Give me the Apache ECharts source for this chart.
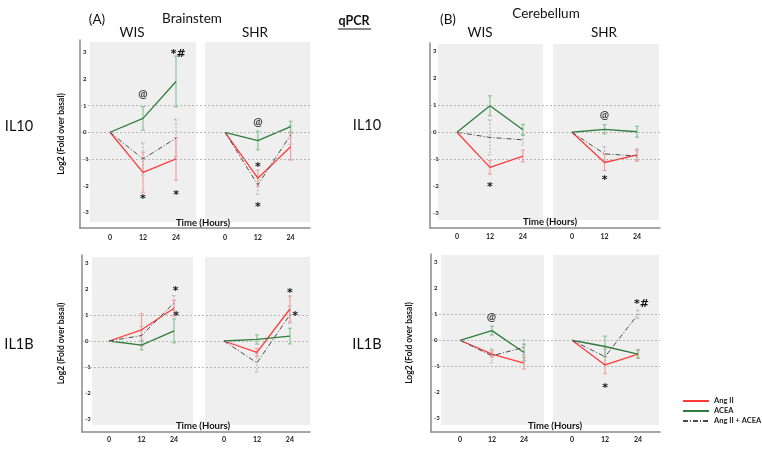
<!DOCTYPE html>
<html><head><meta charset="utf-8">
<script src="https://cdn.jsdelivr.net/npm/echarts@6/dist/echarts.min.js"></script>
<style>html,body{margin:0;padding:0;background:#fff}#c{width:762px;height:451px}</style>
</head><body><div id="c"></div>
<script>
// ---------- data ----------
const hours = [0, 12, 24];
const xTicks = [0, 12, 24];
const yTicks = [-3, -2, -1, 0, 1, 2, 3];
const refLines = [1, 0, -1];
const seriesNames = ['Ang II', 'ACEA', 'Ang II + ACEA'];

// Brainstem IL10 WIS
const bsIL10WisAng = [0, -1.5, -1.0];
const bsIL10WisAngErr = [0, 0.75, 0.8];
const bsIL10WisAcea = [0, 0.52, 1.9];
const bsIL10WisAceaErr = [0, 0.44, 0.95];
const bsIL10WisCombo = [0, -1.0, -0.22];
const bsIL10WisComboErr = [0, 0.6, 0.7];
const bsIL10WisNotes = [[12, 1.4, '@'], [24.8, 3.05, '*#'], [12, -2.4, '*'], [24, -2.25, '*']];
// Brainstem IL10 SHR
const bsIL10ShrAng = [0, -1.72, -0.54];
const bsIL10ShrAngErr = [0, 0.3, 0.5];
const bsIL10ShrAcea = [0, -0.31, 0.21];
const bsIL10ShrAceaErr = [0, 0.35, 0.2];
const bsIL10ShrCombo = [0, -1.97, -0.1];
const bsIL10ShrComboErr = [0, 0.35, 0.35];
const bsIL10ShrNotes = [[12, 0.37, '@'], [12, -1.18, '*'], [12, -2.68, '*']];
// Brainstem IL1B WIS
const bsIL1BWisAng = [0, 0.43, 1.26];
const bsIL1BWisAngErr = [0, 0.62, 0.3];
const bsIL1BWisAcea = [0, -0.16, 0.39];
const bsIL1BWisAceaErr = [0, 0.18, 0.46];
const bsIL1BWisCombo = [0, 0.21, 1.47];
const bsIL1BWisComboErr = [0, 0.35, 0.28];
const bsIL1BWisNotes = [[24.6, 2.05, '*'], [24.8, 1.08, '*']];
// Brainstem IL1B SHR
const bsIL1BShrAng = [0, -0.44, 1.23];
const bsIL1BShrAngErr = [0, 0.15, 0.5];
const bsIL1BShrAcea = [0, 0.06, 0.19];
const bsIL1BShrAceaErr = [0, 0.18, 0.3];
const bsIL1BShrCombo = [0, -0.84, 1.01];
const bsIL1BShrComboErr = [0, 0.35, 0.33];
const bsIL1BShrNotes = [[24, 1.95, '*'], [25.9, 1.08, '*']];
// Cerebellum IL10 WIS
const cbIL10WisAng = [0, -1.3, -0.88];
const cbIL10WisAngErr = [0, 0.25, 0.22];
const cbIL10WisAcea = [0, 0.98, 0.09];
const cbIL10WisAceaErr = [0, 0.37, 0.2];
const cbIL10WisCombo = [0, -0.19, -0.28];
const cbIL10WisComboErr = [0, 0.65, 0.2];
const cbIL10WisNotes = [[12, -1.93, '*']];
// Cerebellum IL10 SHR
const cbIL10ShrAng = [0, -1.12, -0.84];
const cbIL10ShrAngErr = [0, 0.3, 0.22];
const cbIL10ShrAcea = [0, 0.11, 0.02];
const cbIL10ShrAceaErr = [0, 0.17, 0.2];
const cbIL10ShrCombo = [0, -0.8, -0.88];
const cbIL10ShrComboErr = [0, 0.27, 0.2];
const cbIL10ShrNotes = [[12, 0.64, '@'], [12, -1.68, '*']];
// Cerebellum IL1B WIS
const cbIL1BWisAng = [0, -0.53, -0.88];
const cbIL1BWisAngErr = [0, 0.13, 0.22];
const cbIL1BWisAcea = [0, 0.37, -0.47];
const cbIL1BWisAceaErr = [0, 0.17, 0.32];
const cbIL1BWisCombo = [0, -0.6, -0.27];
const cbIL1BWisComboErr = [0, 0.27, 0.29];
const cbIL1BWisNotes = [[11.8, 0.88, '@']];
// Cerebellum IL1B SHR
const cbIL1BShrAng = [0, -0.95, -0.53];
const cbIL1BShrAngErr = [0, 0.33, 0.17];
const cbIL1BShrAcea = [0, -0.24, -0.53];
const cbIL1BShrAceaErr = [0, 0.4, 0.15];
const cbIL1BShrCombo = [0, -0.63, 1.0];
const cbIL1BShrComboErr = [0, 0.3, 0.16];
const cbIL1BShrNotes = [[25.2, 1.52, '*#'], [12, -1.72, '*']];

// ---------- styles ----------
const FONT = 'Lato';
const COL = { ang: '#ff3b3b', acea: '#2f7d3c', combo: '#4a4a4a' };
const ERRCOL = { ang: '#f5a0a0', acea: '#8cc596', combo: '#b5b5b5' };

const grids = [], xAxes = [], yAxes = [], series = [];

function addOuter(o) {
  grids.push({ left: o.left, top: o.top, width: o.w, height: o.h, containLabel: false });
  const gi = grids.length - 1;
  xAxes.push({ gridIndex: gi, type: 'value', min: 0, max: 1,
    axisLine: { show: true, onZero: false, lineStyle: { color: '#8a8a8a', width: 1.5 } },
    axisTick: { show: false }, axisLabel: { show: false }, splitLine: { show: false } });
  yAxes.push({ gridIndex: gi, type: 'value', min: o.ymin, max: o.ymax,
    name: o.name ? 'Log2 (Fold over basal)' : '', nameLocation: 'middle', nameGap: o.nameGap || 15,
    nameTextStyle: { fontFamily: FONT, fontSize: 8.5, fontWeight: 'bold', color: '#111' },
    axisLine: { show: true, onZero: false, lineStyle: { color: '#8a8a8a', width: 1.5 } },
    axisTick: { show: false }, splitLine: { show: false },
    axisLabel: { show: true, inside: true, margin: 3, customValues: yTicks,
      fontFamily: FONT, fontSize: 6, fontWeight: 'bold', color: '#222' } });
  series.push({ type: 'line', xAxisIndex: gi, yAxisIndex: gi, data: [], silent: true,
    markLine: { silent: true, symbol: ['none', 'none'], label: { show: false },
      lineStyle: { color: '#a8a8a8', type: [2, 2], width: 0.8 },
      data: refLines.map(v => ({ yAxis: v })) } });
}

function errSeries(gi, vals, errs, color, dashed) {
  return { type: 'custom', xAxisIndex: gi, yAxisIndex: gi, silent: true, z: 3, clip: false,
    encode: { x: 0, y: 1 },
    data: hours.map((h, i) => [h, vals[i], errs[i]]),
    renderItem(params, api) {
      const x = api.value(0), y = api.value(1), e = api.value(2);
      if (!e) return null;
      const t = api.coord([x, y + e]), b = api.coord([x, y - e]);
      const cw = 2;
      const st = { stroke: color, lineWidth: 1.2, lineDash: dashed ? [2, 1.5] : null };
      return { type: 'group', children: [
        { type: 'line', shape: { x1: t[0], y1: t[1], x2: b[0], y2: b[1] }, style: st },
        { type: 'line', shape: { x1: t[0] - cw, y1: t[1], x2: t[0] + cw, y2: t[1] }, style: st },
        { type: 'line', shape: { x1: b[0] - cw, y1: b[1], x2: b[0] + cw, y2: b[1] }, style: st }
      ] };
    } };
}

function noteSeries(gi, notes) {
  return { type: 'custom', xAxisIndex: gi, yAxisIndex: gi, silent: true, z: 6, clip: false,
    encode: { x: 0, y: 1 },
    data: notes.map(n => [n[0], n[1]]),
    renderItem(params, api) {
      const p = api.coord([api.value(0), api.value(1)]);
      const txt = notes[params.dataIndex][2];
      const isAt = txt === '@';
      return { type: 'text', x: p[0], y: p[1] + (isAt ? 0 : 3),
        style: { text: txt, fontFamily: isAt ? FONT : 'DejaVu Sans', fontSize: isAt ? 11 : 11,
          fontWeight: 'bold', fill: isAt ? '#444' : '#111', align: 'center', verticalAlign: 'middle' } };
    } };
}

function addInner(g, d) {
  grids.push({ left: g.left, top: g.top, width: g.w, height: g.h, show: true,
    backgroundColor: '#efefef', borderWidth: 0 });
  const gi = grids.length - 1;
  xAxes.push({ gridIndex: gi, type: 'value', min: g.xmin, max: g.xmax,
    axisLine: { show: false, onZero: false }, axisTick: { show: false }, splitLine: { show: false },
    axisLabel: { show: true, customValues: xTicks, margin: g.lm,
      fontFamily: FONT, fontSize: 7, fontWeight: 'bold', color: '#222' } });
  yAxes.push({ gridIndex: gi, type: 'value', min: g.ymin, max: g.ymax,
    axisLine: { show: false, onZero: false }, axisTick: { show: false }, splitLine: { show: false },
    axisLabel: { show: false } });
  series.push(errSeries(gi, d.combo, d.comboErr, ERRCOL.combo, true));
  series.push(errSeries(gi, d.ang, d.angErr, ERRCOL.ang, false));
  series.push(errSeries(gi, d.acea, d.aceaErr, ERRCOL.acea, false));
  const mk = (name, vals, color, type, width) => ({ type: 'line', name, xAxisIndex: gi, yAxisIndex: gi,
    data: hours.map((h, i) => [h, vals[i]]), symbol: 'none', z: 4,
    lineStyle: { color, width, type }, itemStyle: { color } });
  series.push(mk(seriesNames[0], d.ang, COL.ang, 'solid', 1.3));
  series.push(mk(seriesNames[1], d.acea, COL.acea, 'solid', 1.3));
  series.push(mk(seriesNames[2], d.combo, COL.combo, [5, 2, 1, 2], 1));
  series.push(noteSeries(gi, d.notes));
}

// ---------- layout ----------
addOuter({ left: 80, top: 40, w: 230, h: 188, ymin: -3.584, ymax: 3.457, name: true, nameGap: 14 });
addOuter({ left: 82, top: 255, w: 228, h: 177, ymin: -3.5, ymax: 3.31, name: true, nameGap: 16 });
addOuter({ left: 430, top: 43, w: 230, h: 185, ymin: -3.544, ymax: 3.307, name: false });
addOuter({ left: 431, top: 254, w: 229, h: 178, ymin: -3.527, ymax: 3.319, name: true, nameGap: 17 });

addInner({ left: 90, top: 42, w: 106, h: 180, xmin: -7.27, xmax: 31.27, ymin: -3.36, ymax: 3.38, lm: 12 },
  { ang: bsIL10WisAng, angErr: bsIL10WisAngErr, acea: bsIL10WisAcea, aceaErr: bsIL10WisAceaErr,
    combo: bsIL10WisCombo, comboErr: bsIL10WisComboErr, notes: bsIL10WisNotes });
addInner({ left: 205, top: 42, w: 105, h: 180, xmin: -7.35, xmax: 31.1, ymin: -3.36, ymax: 3.38, lm: 12 },
  { ang: bsIL10ShrAng, angErr: bsIL10ShrAngErr, acea: bsIL10ShrAcea, aceaErr: bsIL10ShrAceaErr,
    combo: bsIL10ShrCombo, comboErr: bsIL10ShrComboErr, notes: bsIL10ShrNotes });
addInner({ left: 92, top: 257, w: 101, h: 168, xmin: -6.3, xmax: 31.0, ymin: -3.23, ymax: 3.23, lm: 11 },
  { ang: bsIL1BWisAng, angErr: bsIL1BWisAngErr, acea: bsIL1BWisAcea, aceaErr: bsIL1BWisAceaErr,
    combo: bsIL1BWisCombo, comboErr: bsIL1BWisComboErr, notes: bsIL1BWisNotes });
addInner({ left: 205, top: 257, w: 105, h: 168, xmin: -6.9, xmax: 31.3, ymin: -3.23, ymax: 3.23, lm: 11 },
  { ang: bsIL1BShrAng, angErr: bsIL1BShrAngErr, acea: bsIL1BShrAcea, aceaErr: bsIL1BShrAceaErr,
    combo: bsIL1BShrCombo, comboErr: bsIL1BShrComboErr, notes: bsIL1BShrNotes });
addInner({ left: 438, top: 44, w: 105, h: 176, xmin: -6.9, xmax: 31.3, ymin: -3.25, ymax: 3.27, lm: 13 },
  { ang: cbIL10WisAng, angErr: cbIL10WisAngErr, acea: cbIL10WisAcea, aceaErr: cbIL10WisAceaErr,
    combo: cbIL10WisCombo, comboErr: cbIL10WisComboErr, notes: cbIL10WisNotes });
addInner({ left: 553, top: 44, w: 106, h: 176, xmin: -7.0, xmax: 32.1, ymin: -3.25, ymax: 3.27, lm: 13 },
  { ang: cbIL10ShrAng, angErr: cbIL10ShrAngErr, acea: cbIL10ShrAcea, aceaErr: cbIL10ShrAceaErr,
    combo: cbIL10ShrCombo, comboErr: cbIL10ShrComboErr, notes: cbIL10ShrNotes });
addInner({ left: 441, top: 255, w: 103, h: 170, xmin: -7.1, xmax: 31.5, ymin: -3.26, ymax: 3.28, lm: 11 },
  { ang: cbIL1BWisAng, angErr: cbIL1BWisAngErr, acea: cbIL1BWisAcea, aceaErr: cbIL1BWisAceaErr,
    combo: cbIL1BWisCombo, comboErr: cbIL1BWisComboErr, notes: cbIL1BWisNotes });
addInner({ left: 553, top: 255, w: 106, h: 170, xmin: -6.9, xmax: 31.6, ymin: -3.26, ymax: 3.28, lm: 11 },
  { ang: cbIL1BShrAng, angErr: cbIL1BShrAngErr, acea: cbIL1BShrAcea, aceaErr: cbIL1BShrAceaErr,
    combo: cbIL1BShrCombo, comboErr: cbIL1BShrComboErr, notes: cbIL1BShrNotes });

// ---------- text ----------
const texts = [
  ['(A)', 97, 20, 13.5, 'normal'], ['Brainstem', 192, 19, 13.5, 'normal'],
  ['WIS', 132, 33, 13.5, 'normal'], ['SHR', 255, 33, 13.5, 'normal'],
  ['qPCR', 354, 21, 12.5, 'bold'],
  ['(B)', 448, 20, 13.5, 'normal'], ['Cerebellum', 546, 14, 13.5, 'normal'],
  ['WIS', 480, 33, 13.5, 'normal'], ['SHR', 604, 33, 13.5, 'normal'],
  ['IL10', 19, 126, 14.5, 'normal'], ['IL10', 367, 125, 14.5, 'normal'],
  ['IL1B', 19, 344, 14.5, 'normal'], ['IL1B', 367, 344, 14.5, 'normal'],
  ['Time (Hours)', 203, 223, 9.5, 'bold'], ['Time (Hours)', 203, 426, 9.5, 'bold'],
  ['Time (Hours)', 550, 222, 9.5, 'bold'], ['Time (Hours)', 555, 426, 9.5, 'bold']
];
const graphic = texts.map(t => ({ type: 'text', x: t[1], y: t[2], z: 10,
  style: { text: t[0], fontFamily: FONT, fontSize: t[3], fontWeight: t[4], fill: '#111',
    align: 'center', verticalAlign: 'middle' } }));
graphic.push({ type: 'line', z: 10, shape: { x1: 338, y1: 29, x2: 371, y2: 29 },
  style: { stroke: '#111', lineWidth: 1.2 } });

const chart = echarts.init(document.getElementById('c'), null, { renderer: 'canvas' });
chart.setOption({
  animation: false,
  backgroundColor: '#ffffff',
  grid: grids, xAxis: xAxes, yAxis: yAxes, series,
  legend: { data: seriesNames, orient: 'vertical', left: 677, top: 392, itemWidth: 26, itemHeight: 8,
    itemGap: 2, itemStyle: { opacity: 0 },
    textStyle: { fontFamily: FONT, fontSize: 7.5, fontWeight: 'bold', color: '#222' } },
  graphic
});
</script></body></html>
